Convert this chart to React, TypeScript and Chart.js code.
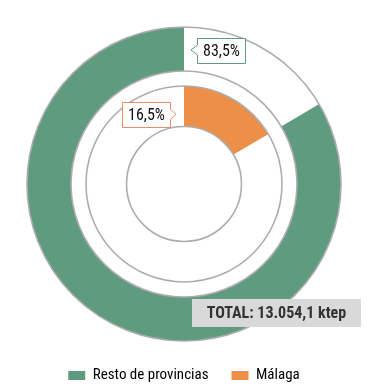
import React, { useEffect, useRef } from 'react';
import { Chart, registerables } from 'chart.js';

Chart.register(...registerables);

// ---- data ----
const categories = ['Resto de provincias', 'Málaga'];
const shares = [83.5, 16.5];
const percentLabels = ['83,5%', '16,5%'];
const totalLabel = 'TOTAL: 13.054,1 ktep';

// ---- styles ----
const GREEN = '#5f9b7f';
const ORANGE = '#ec8f48';
const RING_GRAY = '#adadad';
const FONT = "'Roboto Condensed', 'Liberation Sans Narrow', Roboto, sans-serif";

function drawCallout(ctx: CanvasRenderingContext2D, text: string, tipX: number, tipY: number, side: 'left' | 'right', color: string) {
  ctx.save();
  ctx.font = `16px ${FONT}`;
  const tw = ctx.measureText(text).width;
  const w = Math.round(tw + 11);
  const h = 25;
  const gap = 6;
  const left = Math.round(side === 'left' ? tipX + gap : tipX - gap - w) + 0.5;
  const top = Math.round(tipY - h / 2) + 0.5;
  const right = left + w;
  const bottom = top + h;
  ctx.beginPath();
  if (side === 'left') {
    ctx.moveTo(left, top);
    ctx.lineTo(right, top);
    ctx.lineTo(right, bottom);
    ctx.lineTo(left, bottom);
    ctx.lineTo(left, tipY + 5);
    ctx.lineTo(tipX, tipY);
    ctx.lineTo(left, tipY - 5);
  } else {
    ctx.moveTo(left, top);
    ctx.lineTo(right, top);
    ctx.lineTo(right, tipY - 5);
    ctx.lineTo(tipX, tipY);
    ctx.lineTo(right, tipY + 5);
    ctx.lineTo(right, bottom);
    ctx.lineTo(left, bottom);
  }
  ctx.closePath();
  ctx.fillStyle = '#ffffff';
  ctx.fill();
  ctx.strokeStyle = color;
  ctx.lineWidth = 1;
  ctx.stroke();
  ctx.fillStyle = '#111111';
  ctx.textAlign = 'center';
  ctx.textBaseline = 'middle';
  ctx.fillText(text, (left + right) / 2, (top + bottom) / 2 + 1);
  ctx.restore();
}

const ringsPlugin = {
  id: 'rings',
  afterDatasetsDraw(chart: any) {
    const ctx = chart.ctx;
    ctx.save();
    ctx.strokeStyle = RING_GRAY;
    ctx.lineWidth = 1.6;
    [0, 2].forEach((di) => {
      const arc = chart.getDatasetMeta(di).data[0] as any;
      if (!arc) return;
      [arc.outerRadius, arc.innerRadius].forEach((r: number) => {
        ctx.beginPath();
        ctx.arc(arc.x, arc.y, r, 0, Math.PI * 2);
        ctx.stroke();
      });
    });
    ctx.restore();
  },
  afterDraw(chart: any) {
    const ctx = chart.ctx;
    const outer = chart.getDatasetMeta(0).data[0] as any;
    const inner = chart.getDatasetMeta(2).data[0] as any;
    if (!outer || !inner) return;
    const cx = outer.x;
    const cy = outer.y;
    // outer ring label (Resto de provincias)
    const rOut = (outer.outerRadius + outer.innerRadius) / 2;
    drawCallout(ctx, percentLabels[0], cx + 7, cy - rOut + 1, 'left', GREEN);
    // inner ring label (Málaga)
    const rIn = inner.innerRadius + (inner.outerRadius - inner.innerRadius) * 0.3;
    drawCallout(ctx, percentLabels[1], cx - 8, cy - rIn, 'right', '#de8f6a');
    // total box
    ctx.save();
    const bx = Math.round(cx + 8);
    const by = Math.round(cy + 115);
    const bw = 169;
    const bh = 28;
    ctx.fillStyle = '#d9d9d9';
    ctx.fillRect(bx, by, bw, bh);
    ctx.font = `bold 16px ${FONT}`;
    ctx.fillStyle = '#333333';
    ctx.textAlign = 'center';
    ctx.textBaseline = 'middle';
    ctx.fillText(totalLabel, bx + bw / 2, by + bh / 2 + 1);
    ctx.restore();
  },
};

export default function App() {
  const ref = useRef<HTMLCanvasElement | null>(null);
  useEffect(() => {
    document.body.style.margin = '0';
    const canvas = ref.current;
    if (!canvas) return;
    const chart = new Chart(canvas, {
      type: 'doughnut',
      data: {
        labels: [categories[1], categories[0]],
        datasets: [
          {
            label: 'outer',
            data: [shares[1], shares[0]],
            backgroundColor: ['#ffffff', GREEN],
            borderWidth: 0,
            weight: 44,
          },
          {
            label: 'gap',
            data: [1],
            backgroundColor: ['rgba(0,0,0,0)'],
            borderWidth: 0,
            weight: 15,
          },
          {
            label: 'inner',
            data: [shares[1], shares[0]],
            backgroundColor: [ORANGE, '#ffffff'],
            borderWidth: 0,
            weight: 40.5,
          },
        ],
      } as any,
      options: {
        animation: false,
        responsive: false,
        devicePixelRatio: 1,
        radius: 157,
        cutout: '36.6%',
        layout: { padding: { top: 23, bottom: -5, left: 0, right: 0 } },
        plugins: {
          tooltip: { enabled: false },
          legend: {
            position: 'bottom',
            onClick: () => {},
            labels: {
              boxWidth: 17,
              boxHeight: 9,
              padding: 23,
              color: '#222222',
              font: { size: 15, family: FONT },
              generateLabels: () => [
                { text: categories[0], fillStyle: GREEN, strokeStyle: GREEN, lineWidth: 0, hidden: false, index: 1, datasetIndex: 0 },
                { text: categories[1], fillStyle: ORANGE, strokeStyle: ORANGE, lineWidth: 0, hidden: false, index: 0, datasetIndex: 0 },
              ] as any,
            },
          },
        },
      } as any,
      plugins: [ringsPlugin],
    });
    return () => chart.destroy();
  }, []);
  return (
    <div style={{ width: 368, height: 388 }}>
      <canvas ref={ref} width={368} height={388} style={{ display: 'block', width: 368, height: 388 }} />
    </div>
  );
}
